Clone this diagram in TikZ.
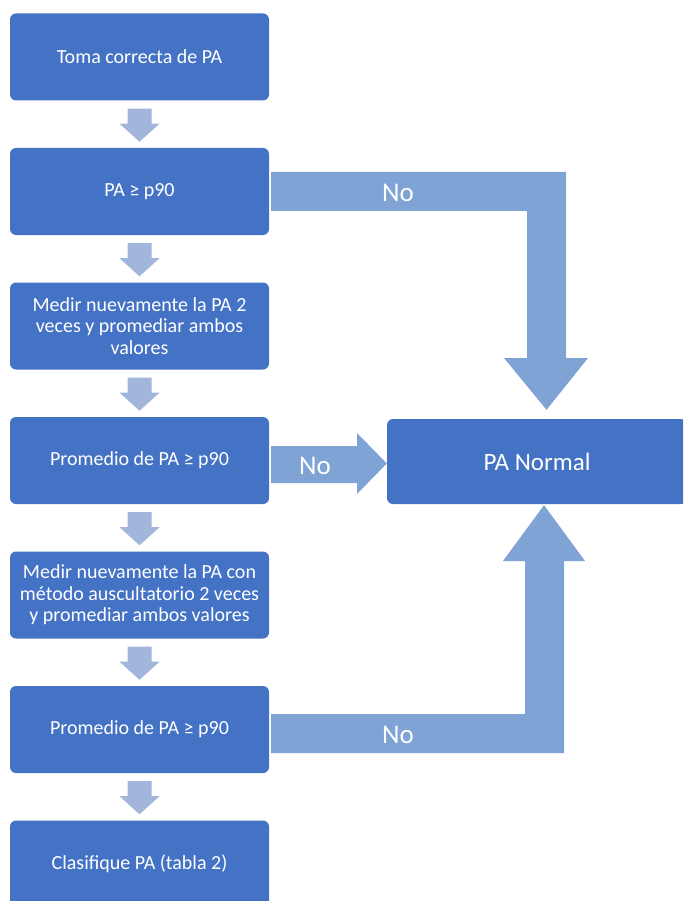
\documentclass[tikz,border=0pt]{standalone}
\usepackage{fontspec}
\setmainfont{Carlito}
\usetikzlibrary{calc}
\definecolor{boxblue}{HTML}{4472C4}
\definecolor{flowarr}{HTML}{A2B6DC}
\definecolor{noarr}{HTML}{7FA3D5}
\tikzset{
  stepbox/.style={fill=boxblue, rounded corners=6pt, minimum width=259pt,
    minimum height=87pt, inner sep=2pt, align=center, text=white,
    font=\fontsize{20}{21.5}\selectfont},
  resultbox/.style={fill=boxblue, rounded corners=6pt, minimum width=300pt,
    minimum height=85pt, text=white, font=\fontsize{25}{28}\selectfont},
  downarr/.style={fill=flowarr},
  noband/.style={fill=noarr},
  nolabel/.style={text=white, font=\fontsize{27}{30}\selectfont}
}
% vertical flow arrow between two stacked boxes
\newcommand{\flowdown}[2]{%
  \fill[downarr] ($(#1.south)+(-12,8)$) -- ($(#1.south)+(12,8)$)
    -- ($(#1.south)+(12,23)$) -- ($(#1.south)+(20,23)$)
    -- ($(#2.north)+(0,-6)$) -- ($(#1.south)+(-20,23)$)
    -- ($(#1.south)+(-12,23)$) -- cycle;}
\begin{document}
\begin{tikzpicture}[x=1pt, y=-1pt]
\useasboundingbox (0,0) rectangle (683,901);
\clip (0,0) rectangle (683,901);

% main column
\node[stepbox] (b1) at (139.5,57)   {Toma correcta de PA};
\node[stepbox] (b2) at (139.5,191.5) {PA ≥ p90};
\node[stepbox] (b3) at (139.5,326)  {Medir nuevamente la PA 2\\veces y promediar ambos\\valores};
\node[stepbox] (b4) at (139.5,460.5) {Promedio de PA ≥ p90};
\node[stepbox] (b5) at (139.5,595)  {Medir nuevamente la PA con\\método auscultatorio 2 veces\\y promediar ambos valores};
\node[stepbox] (b6) at (139.5,729.5) {Promedio de PA ≥ p90};
\node[stepbox] (b7) at (139.5,864)  {Clasifique PA (tabla 2)};

% outcome
\node[resultbox] (pn) at (537,461.5) {PA Normal};

\flowdown{b1}{b2}
\flowdown{b2}{b3}
\flowdown{b3}{b4}
\flowdown{b4}{b5}
\flowdown{b5}{b6}
\flowdown{b6}{b7}

% "No" from the first check: right, then down into PA Normal
\fill[noband] ($(b2.east)+(2,-19.5)$) -- (566,172) -- (566,358) -- (588,358)
  -- ($(pn.north)+(9.5,-9)$) -- (504,358) -- (527,358) -- (527,211)
  -- ($(b2.east)+(2,19.5)$) -- cycle;
\node[nolabel] (no1) at (398,193) {No};

% "No" from the second check: straight right
\fill[noband] ($(b4.east)+(2,-14.5)$) -- (357,446) -- (357,433)
  -- ($(pn.west)+(0,2)$) -- (357,494) -- (357,483)
  -- ($(b4.east)+(2,22.5)$) -- cycle;
\node[nolabel] (no2) at (315,466) {No};

% "No" from the third check: right, then up into PA Normal
\fill[noband] ($(b6.east)+(2,-15.5)$) -- (525,714) -- (525,561) -- (503,561)
  -- ($(pn.south)+(7,1)$) -- (585,561) -- (564,561) -- (564,753)
  -- ($(b6.east)+(2,23.5)$) -- cycle;
\node[nolabel] (no3) at (398,735) {No};
\end{tikzpicture}
\end{document}
